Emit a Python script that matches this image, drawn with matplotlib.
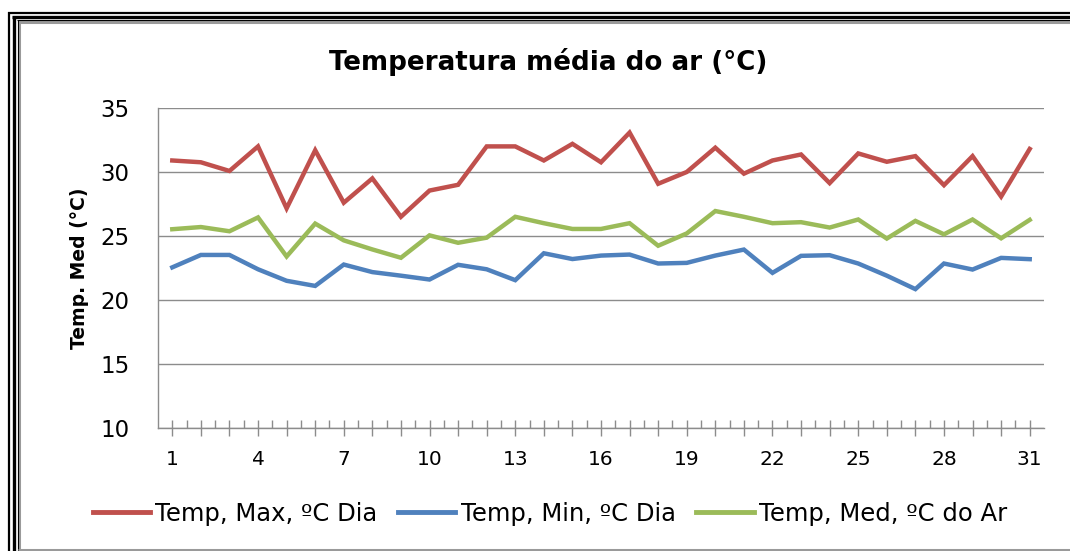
import matplotlib
matplotlib.use("Agg")
import matplotlib.pyplot as plt
from matplotlib.lines import Line2D
import numpy as np

days = list(range(1, 32))
temp_max = [30.9, 30.76, 30.08, 32.0, 27.16, 31.7, 27.6, 29.5, 26.5, 28.55,
            29.0, 32.0, 32.0, 30.9, 32.2, 30.76, 33.08, 29.08, 30.0, 31.9,
            29.87, 30.9, 31.37, 29.13, 31.45, 30.8, 31.24, 28.97, 31.24, 28.08, 31.8]
temp_min = [22.55, 23.52, 23.52, 22.4, 21.5, 21.1, 22.77, 22.18, 21.9, 21.6,
            22.75, 22.4, 21.55, 23.65, 23.2, 23.47, 23.55, 22.85, 22.9, 23.47,
            23.94, 22.12, 23.45, 23.5, 22.85, 21.9, 20.85, 22.85, 22.38, 23.29, 23.19]
temp_med = [25.53, 25.7, 25.37, 26.45, 23.4, 25.97, 24.66, 23.95, 23.3, 25.05,
            24.47, 24.87, 26.5, 26.0, 25.55, 25.55, 26.0, 24.24, 25.2, 26.95,
            26.5, 26.0, 26.08, 25.66, 26.29, 24.8, 26.18, 25.13, 26.29, 24.82, 26.26]
series_labels = ["Temp, Max, ºC Dia", "Temp, Min, ºC Dia", "Temp, Med, ºC do Ar"]
title = "Temperatura média do ar (°C)"
ylabel = "Temp. Med (°C)"
yticks = [10, 15, 20, 25, 30, 35]
xtick_labels = [1, 4, 7, 10, 13, 16, 19, 22, 25, 28, 31]

W, H = 1070, 551
fig = plt.figure(figsize=(W / 100, H / 100), dpi=100)
fig.patch.set_facecolor("white")

def fx(px):
    return px / W

def fy(py):
    return 1 - py / H

AX_L, AX_R, AX_T, AX_B = 158, 1044, 108, 428
ax = fig.add_axes([fx(AX_L), fy(AX_B), fx(AX_R) - fx(AX_L), fy(AX_T) - fy(AX_B)])

colors = ["#C0504D", "#4F81BD", "#9BBB59"]
for vals, c, lab in zip([temp_max, temp_min, temp_med], colors, series_labels):
    ax.plot(days, vals, color=c, lw=3.2, label=lab, solid_joinstyle="miter")

ax.set_xlim(0.5, 31.5)
ax.set_ylim(10, 35)
ax.set_yticks(yticks)
ax.yaxis.grid(True, color="#8c8c8c", lw=1.0)
ax.set_axisbelow(True)
for s in ["top", "right"]:
    ax.spines[s].set_visible(False)
ax.spines["left"].set_color("#8c8c8c")
ax.spines["bottom"].set_color("#8c8c8c")
ax.spines["left"].set_linewidth(1.0)
ax.spines["bottom"].set_linewidth(1.0)

ax.set_xticks(days)
ax.set_xticklabels([str(d) if d in xtick_labels else "" for d in days])
ax.set_xticks(np.arange(1.5, 31.5, 1.0), minor=True)
ax.tick_params(axis="x", which="major", direction="inout", length=11, width=1.0,
               color="#8c8c8c", pad=10, labelsize=14.5)
ax.tick_params(axis="x", which="minor", direction="in", length=6, width=1.0,
               color="#8c8c8c")
ax.tick_params(axis="y", length=0, pad=20.5, labelsize=16.5)
for t in ax.get_xticklabels():
    t.set_family(["Liberation Sans Narrow", "DejaVu Sans"])

ax.set_ylabel(ylabel, fontsize=13.5, fontweight="bold")
ax.yaxis.set_label_coords((89 - AX_L) / (AX_R - AX_L),
                          (AX_B - 268) / (AX_B - AX_T))

fig.text(fx(548), fy(62), title, ha="center", va="center", fontsize=18.8,
         fontweight="bold")

leg = fig.legend(loc="center", bbox_to_anchor=(fx(550), fy(514)), ncol=3,
                 frameon=False, fontsize=17.5, handlelength=2.35,
                 handletextpad=0.22, columnspacing=0.85)
for ln in leg.get_lines():
    ln.set_linewidth(3.5)

# decorative frame
def hline(y, x0, x1, c, lw):
    fig.add_artist(Line2D([fx(x0), fx(x1)], [fy(y), fy(y)], color=c, lw=lw,
                          solid_capstyle="butt"))

def vline(x, y0, y1, c, lw):
    fig.add_artist(Line2D([fx(x), fx(x)], [fy(y0), fy(y1)], color=c, lw=lw,
                          solid_capstyle="butt"))

vline(9, 12, H, "black", 1.6)
hline(12.7, 8, W, "black", 1.6)
vline(13.8, 16, H, "black", 2.4)
hline(16.7, 12.3, W, "black", 2.4)
vline(19, 20, H, "#9a9a9a", 2.2)
hline(22, 17.5, W, "#9a9a9a", 2.2)
vline(17.5, 20, H, "black", 0.8)
hline(20.3, 17, W, "black", 0.8)
hline(550, 17.5, W, "#9a9a9a", 2.2)

fig.savefig("out.png", dpi=100)
